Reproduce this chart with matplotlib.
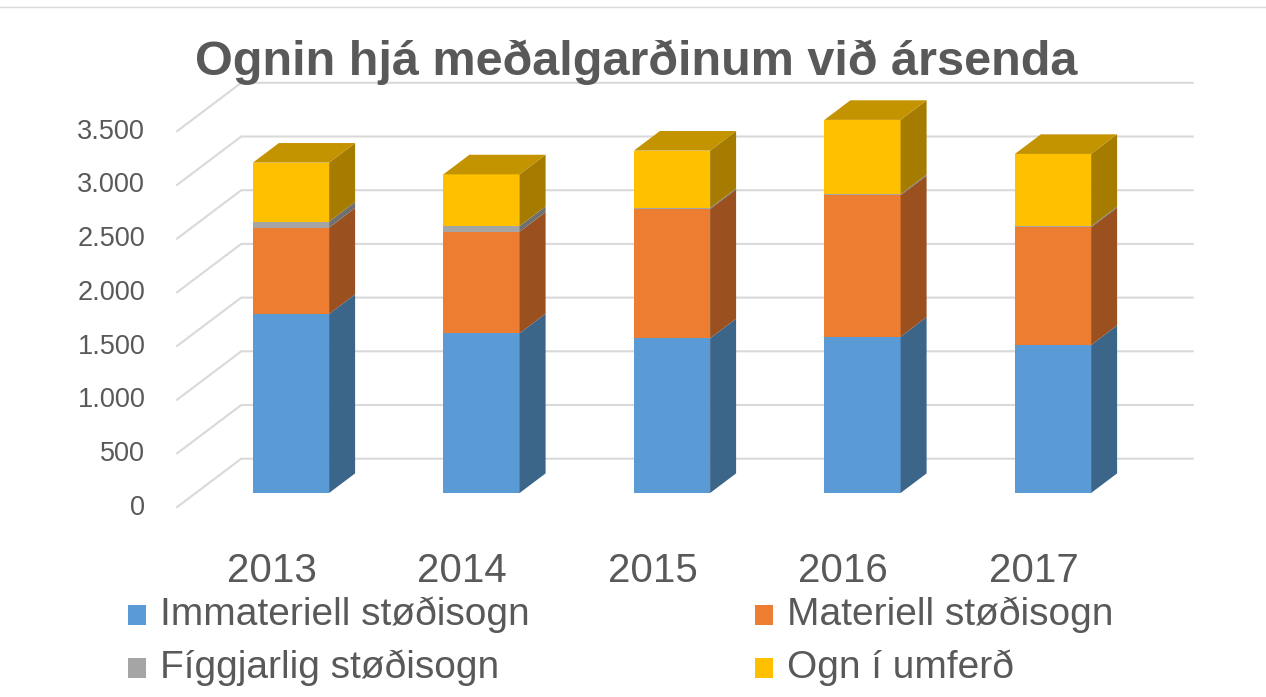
import matplotlib
matplotlib.use("Agg")
import matplotlib.pyplot as plt
from matplotlib.patches import Polygon, Rectangle

# Data
years = ["2013", "2014", "2015", "2016", "2017"]
immateriell = [1667, 1487, 1440, 1455, 1378]
materiell = [804, 946, 1204, 1317, 1096]
figgjarlig = [56, 53, 10, 10, 10]
ogn_umferd = [549, 481, 534, 692, 673]
y_ticks = [0, 500, 1000, 1500, 2000, 2500, 3000, 3500]
y_tick_labels = ["0", "500", "1.000", "1.500", "2.000", "2.500", "3.000", "3.500"]

series = [
    ("Immateriell støðisogn", immateriell, "#5B9BD5", "#3B6689"),
    ("Materiell støðisogn", materiell, "#ED7D31", "#9B5020"),
    ("Fíggjarlig støðisogn", figgjarlig, "#A5A5A5", "#707070"),
    ("Ogn í umferð", ogn_umferd, "#FFC000", "#A67C00"),
]
TOP_COLOR = "#C49300"

_COLORS = {"text": "#595959", "grid": "#D9D9D9", "bg": "#FFFFFF"}

# Figure geometry (pixels)
W, H = 1266, 697
PX_CAT = 190.5          # pixels per category
PX_VAL = 53.7 / 500     # pixels per value unit
X0_PX = 291             # front centre of first bar
Y0_PX = 493             # front base of bars (from top)

# Perspective depth (in data units)
DEPTH_X = 65 / PX_CAT
DEPTH_Y = 49 / PX_VAL
BAR_HALF = 0.2
BAR_DX = 0.4 * DEPTH_X
BAR_DY = 0.4 * DEPTH_Y

fig = plt.figure(figsize=(W / 100, H / 100), dpi=100, facecolor=_COLORS["bg"])
ax = fig.add_axes([0, 0, 1, 1])
ax.set_xlim(-X0_PX / PX_CAT, (W - X0_PX) / PX_CAT)
ax.set_ylim((Y0_PX - H) / PX_VAL, Y0_PX / PX_VAL)
ax.axis("off")

font = ["Liberation Sans", "DejaVu Sans"]

# Walls: diagonal left wall lines plus back wall gridlines
x_left = -0.5
x_right = len(years) - 0.5
for g, lab in zip(y_ticks, y_tick_labels):
    xf, yf = x_left - 0.3 * DEPTH_X, g - 0.3 * DEPTH_Y
    xb, yb = x_left + 0.7 * DEPTH_X, g + 0.7 * DEPTH_Y
    ax.plot([xf, xb, x_right + 0.7 * DEPTH_X], [yf, yb, yb],
            color=_COLORS["grid"], linewidth=1.5, zorder=1, solid_capstyle="butt")
    ax.text(xf - 31 / PX_CAT, yf, lab, ha="right", va="center",
            fontsize=19.5, color=_COLORS["text"], family=font)

# Bars
x = list(range(len(years)))
bottoms = [0] * len(years)
for name, vals, front, side in series:
    ax.bar(x, vals, width=2 * BAR_HALF, bottom=bottoms, color=front,
           linewidth=0, zorder=3)
    for i, (b, v) in enumerate(zip(bottoms, vals)):
        xr = i + BAR_HALF
        ax.add_patch(Polygon([(xr, b), (xr + BAR_DX, b + BAR_DY),
                              (xr + BAR_DX, b + v + BAR_DY), (xr, b + v)],
                             closed=True, facecolor=side, edgecolor="none", zorder=3))
    bottoms = [b + v for b, v in zip(bottoms, vals)]

for i, t in enumerate(bottoms):
    ax.add_patch(Polygon([(i - BAR_HALF, t), (i - BAR_HALF + BAR_DX, t + BAR_DY),
                          (i + BAR_HALF + BAR_DX, t + BAR_DY), (i + BAR_HALF, t)],
                         closed=True, facecolor=TOP_COLOR, edgecolor="none", zorder=3))

# Category labels at the front edge of the floor
for i, yr in enumerate(years):
    ax.text(i - 0.3 * DEPTH_X, (Y0_PX - 582) / PX_VAL, yr, ha="center", va="baseline",
            fontsize=29, color=_COLORS["text"], family=font)

# Title
fig.text(636.5 / W, 1 - 62 / H, "Ognin hjá meðalgarðinum við ársenda", ha="center",
         va="center", fontsize=35, fontweight="bold", color=_COLORS["text"], family=font)

# Top border line
fig.add_artist(plt.Line2D([0, 1], [1 - 7 / H, 1 - 7 / H], color="#D9D9D9", linewidth=1))

# Legend (two columns)
legend_pos = [(128, 615), (128, 668), (755, 615), (755, 668)]
legend_items = [series[0], series[2], series[1], series[3]]
for (px, py), (name, _, front, _) in zip(legend_pos, legend_items):
    fig.add_artist(Rectangle((px / W, 1 - (py + 10) / H), 18 / W, 20 / H,
                             facecolor=front, edgecolor="none", transform=fig.transFigure))
    fig.text((px + 32) / W, 1 - py / H, name, ha="left", va="center",
             fontsize=28, color=_COLORS["text"], family=font)

fig.savefig("out.png", dpi=100, facecolor=_COLORS["bg"])
